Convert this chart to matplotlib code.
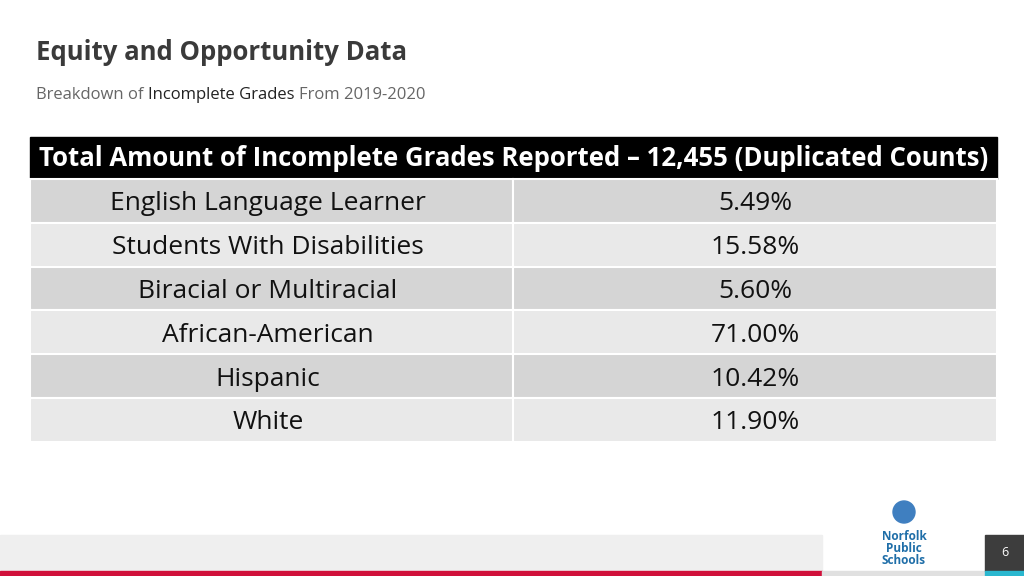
import matplotlib.pyplot as plt
from matplotlib.patches import Rectangle

# table contents
header = "Total Amount of Incomplete Grades Reported \u2013 12,455 (Duplicated Counts)"
groups = ["English Language Learner", "Students With Disabilities", "Biracial or Multiracial",
          "African-American", "Hispanic", "White"]
percents = [5.49, 15.58, 5.60, 71.00, 10.42, 11.90]

fig = plt.figure(figsize=(10.24, 5.76), dpi=100)
ax = fig.add_axes([0, 0, 1, 1])
ax.set_xlim(0, 1024)
ax.set_ylim(576, 0)
ax.axis("off")

font = "Open Sans"

# title
ax.text(36, 53, "Equity and Opportunity Data", fontsize=18.5, fontweight="bold",
        family=font, color="#3a3a3a", va="center")

# subtitle in three colours, placed one after another
renderer = fig.canvas.get_renderer()
x = 36
for part, col in [("Breakdown of ", "#666666"), ("Incomplete Grades ", "#222222"),
                  ("From 2019-2020", "#666666")]:
    t = ax.text(x, 95, part, fontsize=12, family=font, color=col, va="center")
    bb = t.get_window_extent(renderer)
    x += bb.width

# table
left, right, split = 30, 997, 513
top, head_h, row_h = 137, 42, 43.8
ax.add_patch(Rectangle((left, top), right - left, head_h, color="black"))
ax.text((left + right) / 2, top + head_h / 2 + 1, header, fontsize=18.5, fontweight="bold",
        family=font, color="white", ha="center", va="center")

for i, (g, p) in enumerate(zip(groups, percents)):
    y = top + head_h + i * row_h
    color = "#d5d5d5" if i % 2 == 0 else "#e9e9e9"
    ax.add_patch(Rectangle((left, y), split - left, row_h, facecolor=color, edgecolor="white", lw=1.5))
    ax.add_patch(Rectangle((split, y), right - split, row_h, facecolor=color, edgecolor="white", lw=1.5))
    ax.text(268, y + row_h / 2 + 3, g, fontsize=19, family=font, color="#111111",
            ha="center", va="center")
    ax.text(755, y + row_h / 2 + 3, f"{p:.2f}%", fontsize=19, family=font, color="#111111",
            ha="center", va="center")

# footer
ax.add_patch(Rectangle((0, 535), 822, 36, color="#efefef"))
ax.add_patch(Rectangle((0, 571), 822, 5, color="#d0103a"))
ax.add_patch(Rectangle((822, 571), 163, 5, color="#e0e0e0"))
ax.add_patch(Rectangle((985, 535), 39, 36, color="#3d3d3d"))
ax.add_patch(Rectangle((985, 571), 39, 5, color="#2ab7cf"))
ax.text(1005, 553, "6", fontsize=9, family=font, color="white", ha="center", va="center")

# logo
ax.add_patch(plt.Circle((904, 512), 11, color="#3f7fc0"))
ax.text(904, 549, "Norfolk\nPublic\nSchools", fontsize=8.5, fontweight="bold", family=font,
        color="#1f6ea8", ha="center", va="center", linespacing=0.9)

fig.savefig("out.png", dpi=100)
